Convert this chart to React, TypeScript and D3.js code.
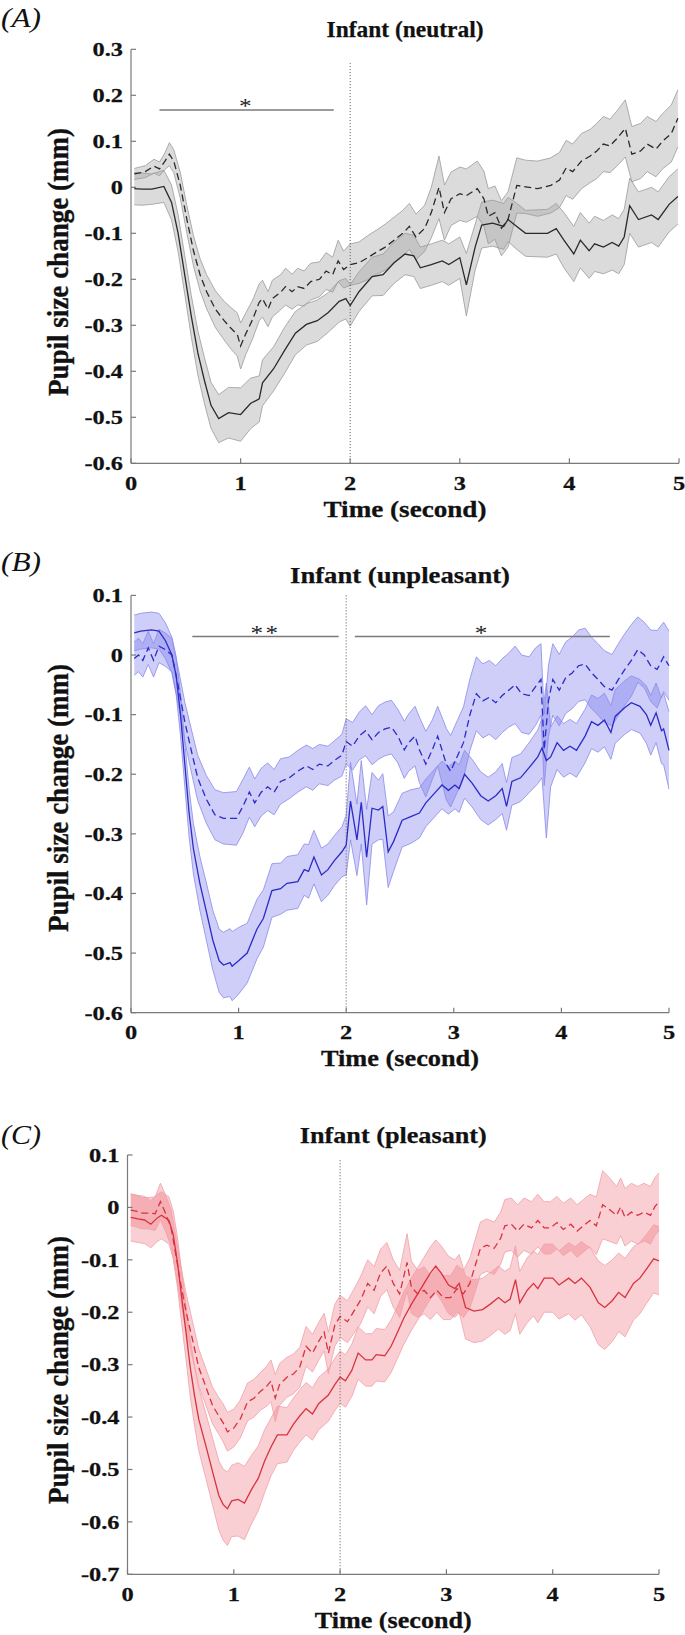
import React from "react";
import * as d3 from "d3";

// ---------- DATA ----------
const timeTicks = [0, 1, 2, 3, 4, 5];
const neutralYTicks = [0.3, 0.2, 0.1, 0, -0.1, -0.2, -0.3, -0.4, -0.5, -0.6];
const unpleasantYTicks = [0.1, 0, -0.1, -0.2, -0.3, -0.4, -0.5, -0.6];
const pleasantYTicks = [0.1, 0, -0.1, -0.2, -0.3, -0.4, -0.5, -0.6, -0.7];

const panelLetters = ["(A)", "(B)", "(C)"];
const panelTitles = ["Infant (neutral)", "Infant (unpleasant)", "Infant (pleasant)"];
const xAxisLabel = "Time (second)";
const yAxisLabel = "Pupil size change (mm)";

// [time (s), mean (mm), band half-width (mm)]
const neutralSolid = [
  [0.03, -0.003, 0.035], [0.1, -0.004, 0.035], [0.19, -0.004, 0.033], [0.3, 0.002, 0.035], [0.37, -0.033, 0.038],
  [0.43, -0.1, 0.04], [0.49, -0.19, 0.042], [0.55, -0.28, 0.045], [0.61, -0.36, 0.048], [0.67, -0.42, 0.05],
  [0.73, -0.474, 0.05], [0.8, -0.503, 0.052], [0.89, -0.49, 0.055], [1.0, -0.494, 0.058], [1.09, -0.47, 0.055],
  [1.17, -0.46, 0.05], [1.2, -0.425, 0.05], [1.3, -0.395, 0.048], [1.4, -0.355, 0.05], [1.5, -0.317, 0.047],
  [1.6, -0.298, 0.045], [1.7, -0.29, 0.045], [1.8, -0.272, 0.043], [1.9, -0.248, 0.045], [1.96, -0.242, 0.044],
  [2.0, -0.257, 0.045], [2.08, -0.227, 0.043], [2.2, -0.194, 0.042], [2.3, -0.19, 0.045], [2.4, -0.164, 0.045],
  [2.5, -0.145, 0.045], [2.58, -0.149, 0.045], [2.64, -0.175, 0.045], [2.74, -0.168, 0.045], [2.84, -0.16, 0.045],
  [2.9, -0.168, 0.045], [3.0, -0.153, 0.045], [3.06, -0.212, 0.068], [3.14, -0.13, 0.05], [3.2, -0.082, 0.05],
  [3.3, -0.078, 0.05], [3.4, -0.085, 0.05], [3.44, -0.07, 0.048], [3.52, -0.085, 0.05], [3.6, -0.1, 0.05],
  [3.8, -0.1, 0.052], [3.88, -0.09, 0.055], [3.95, -0.115, 0.06], [4.04, -0.145, 0.06], [4.1, -0.115, 0.06],
  [4.18, -0.138, 0.06], [4.23, -0.123, 0.06], [4.31, -0.13, 0.058], [4.39, -0.12, 0.06], [4.45, -0.128, 0.06],
  [4.5, -0.108, 0.06], [4.55, -0.04, 0.06], [4.63, -0.07, 0.06], [4.75, -0.06, 0.06], [4.81, -0.07, 0.06],
  [4.91, -0.037, 0.06], [4.99, -0.02, 0.06],
];
const neutralDashed = [
  [0.03, 0.029, 0.012], [0.13, 0.034, 0.013], [0.21, 0.046, 0.015], [0.26, 0.04, 0.015], [0.31, 0.057, 0.018],
  [0.35, 0.072, 0.025], [0.39, 0.057, 0.025], [0.45, 0.004, 0.028], [0.51, -0.07, 0.03], [0.57, -0.138, 0.033],
  [0.63, -0.19, 0.035], [0.69, -0.227, 0.037], [0.77, -0.265, 0.04], [0.85, -0.29, 0.042], [0.91, -0.306, 0.045],
  [0.97, -0.32, 0.047], [1.0, -0.345, 0.05], [1.05, -0.317, 0.045], [1.11, -0.287, 0.042], [1.17, -0.25, 0.04],
  [1.2, -0.242, 0.04], [1.25, -0.265, 0.038], [1.29, -0.242, 0.04], [1.37, -0.227, 0.038], [1.41, -0.216, 0.04],
  [1.47, -0.227, 0.038], [1.52, -0.216, 0.04], [1.58, -0.22, 0.038], [1.64, -0.205, 0.04], [1.72, -0.2, 0.038],
  [1.78, -0.182, 0.04], [1.84, -0.19, 0.038], [1.89, -0.16, 0.045], [1.94, -0.179, 0.04], [2.0, -0.168, 0.045],
  [2.08, -0.164, 0.045], [2.16, -0.153, 0.048], [2.24, -0.141, 0.048], [2.32, -0.13, 0.05], [2.4, -0.115, 0.05],
  [2.48, -0.1, 0.05], [2.54, -0.085, 0.05], [2.6, -0.108, 0.05], [2.68, -0.089, 0.05], [2.74, -0.055, 0.055],
  [2.81, 0.0, 0.068], [2.86, -0.055, 0.06], [2.92, -0.025, 0.058], [3.0, -0.014, 0.058], [3.06, -0.018, 0.058],
  [3.16, -0.003, 0.06], [3.22, -0.025, 0.06], [3.26, -0.063, 0.06], [3.32, -0.055, 0.058], [3.38, -0.089, 0.06],
  [3.44, -0.07, 0.06], [3.52, 0.004, 0.06], [3.6, 0.001, 0.058], [3.71, -0.003, 0.06], [3.83, 0.004, 0.06],
  [3.91, 0.016, 0.06], [3.97, 0.042, 0.06], [4.03, 0.034, 0.06], [4.11, 0.057, 0.06], [4.19, 0.068, 0.058],
  [4.25, 0.079, 0.06], [4.31, 0.094, 0.06], [4.37, 0.09, 0.058], [4.43, 0.105, 0.06], [4.51, 0.128, 0.062],
  [4.57, 0.072, 0.06], [4.65, 0.079, 0.06], [4.71, 0.094, 0.06], [4.79, 0.083, 0.06], [4.85, 0.1, 0.06],
  [4.93, 0.117, 0.062], [4.99, 0.15, 0.062],
];

const unpleasantSolid = [
  [0.03, 0.037, 0.03], [0.09, 0.04, 0.03], [0.19, 0.042, 0.03], [0.26, 0.04, 0.03], [0.32, 0.024, 0.03],
  [0.38, 0.0, 0.03], [0.42, -0.035, 0.032], [0.46, -0.1, 0.035], [0.5, -0.183, 0.038], [0.54, -0.265, 0.04],
  [0.58, -0.325, 0.042], [0.64, -0.383, 0.045], [0.7, -0.43, 0.048], [0.76, -0.478, 0.05], [0.82, -0.513, 0.053],
  [0.86, -0.52, 0.055], [0.92, -0.516, 0.057], [0.94, -0.522, 0.058], [1.0, -0.513, 0.056], [1.08, -0.5, 0.05],
  [1.17, -0.46, 0.05], [1.23, -0.442, 0.048], [1.31, -0.395, 0.045], [1.39, -0.392, 0.043], [1.45, -0.383, 0.045],
  [1.55, -0.38, 0.045], [1.61, -0.36, 0.043], [1.65, -0.363, 0.045], [1.7, -0.339, 0.045], [1.77, -0.369, 0.045],
  [1.83, -0.36, 0.043], [1.89, -0.345, 0.042], [1.96, -0.33, 0.042], [2.0, -0.319, 0.05], [2.04, -0.245, 0.065],
  [2.1, -0.31, 0.06], [2.14, -0.247, 0.07], [2.19, -0.339, 0.08], [2.24, -0.257, 0.06], [2.3, -0.26, 0.05],
  [2.34, -0.254, 0.055], [2.39, -0.33, 0.06], [2.44, -0.313, 0.05], [2.52, -0.277, 0.045], [2.6, -0.271, 0.045],
  [2.68, -0.265, 0.042], [2.74, -0.248, 0.04], [2.83, -0.23, 0.04], [2.89, -0.218, 0.04], [2.95, -0.227, 0.04],
  [3.01, -0.218, 0.04], [3.05, -0.224, 0.04], [3.1, -0.2, 0.04], [3.17, -0.215, 0.04], [3.25, -0.236, 0.04],
  [3.32, -0.245, 0.04], [3.39, -0.236, 0.04], [3.45, -0.224, 0.042], [3.49, -0.254, 0.04], [3.54, -0.212, 0.04],
  [3.62, -0.206, 0.04], [3.7, -0.189, 0.042], [3.78, -0.171, 0.045], [3.82, -0.156, 0.05], [3.86, -0.177, 0.13],
  [3.9, -0.171, 0.05], [3.96, -0.147, 0.045], [4.02, -0.16, 0.045], [4.08, -0.153, 0.045], [4.14, -0.16, 0.045],
  [4.22, -0.136, 0.045], [4.28, -0.112, 0.045], [4.34, -0.118, 0.045], [4.4, -0.109, 0.045], [4.46, -0.13, 0.045],
  [4.5, -0.103, 0.045], [4.59, -0.088, 0.045], [4.65, -0.08, 0.045], [4.73, -0.086, 0.045], [4.79, -0.1, 0.048],
  [4.83, -0.118, 0.05], [4.88, -0.097, 0.05], [4.93, -0.127, 0.055], [4.95, -0.124, 0.06], [5.0, -0.16, 0.065],
];
const unpleasantDashed = [
  [0.03, -0.006, 0.028], [0.07, 0.0, 0.028], [0.11, -0.009, 0.028], [0.16, 0.012, 0.028], [0.21, -0.009, 0.028],
  [0.26, 0.015, 0.028], [0.32, 0.009, 0.028], [0.38, 0.0, 0.028], [0.44, -0.053, 0.03], [0.5, -0.112, 0.033],
  [0.56, -0.16, 0.036], [0.62, -0.206, 0.038], [0.7, -0.242, 0.04], [0.78, -0.268, 0.042], [0.86, -0.274, 0.043],
  [0.98, -0.274, 0.045], [1.04, -0.254, 0.045], [1.1, -0.23, 0.042], [1.15, -0.248, 0.04], [1.21, -0.23, 0.04],
  [1.27, -0.221, 0.04], [1.33, -0.23, 0.038], [1.39, -0.212, 0.038], [1.47, -0.206, 0.035], [1.55, -0.195, 0.035],
  [1.63, -0.186, 0.035], [1.69, -0.192, 0.035], [1.75, -0.183, 0.033], [1.83, -0.186, 0.033], [1.89, -0.177, 0.033],
  [1.96, -0.168, 0.035], [2.0, -0.145, 0.038], [2.06, -0.153, 0.04], [2.12, -0.136, 0.04], [2.18, -0.127, 0.042],
  [2.24, -0.142, 0.042], [2.3, -0.13, 0.045], [2.36, -0.124, 0.045], [2.42, -0.121, 0.045], [2.48, -0.136, 0.045],
  [2.54, -0.159, 0.048], [2.58, -0.147, 0.048], [2.64, -0.136, 0.05], [2.68, -0.159, 0.055], [2.74, -0.183, 0.055],
  [2.8, -0.159, 0.05], [2.85, -0.136, 0.05], [2.89, -0.159, 0.055], [2.93, -0.183, 0.06], [2.97, -0.195, 0.06],
  [3.03, -0.171, 0.06], [3.09, -0.147, 0.06], [3.15, -0.1, 0.06], [3.21, -0.065, 0.062], [3.27, -0.077, 0.062],
  [3.33, -0.071, 0.062], [3.39, -0.08, 0.062], [3.45, -0.068, 0.062], [3.51, -0.059, 0.062], [3.57, -0.05, 0.065],
  [3.63, -0.065, 0.065], [3.7, -0.068, 0.065], [3.76, -0.053, 0.065], [3.81, -0.041, 0.06], [3.84, -0.159, 0.06],
  [3.88, -0.077, 0.06], [3.92, -0.041, 0.06], [3.98, -0.059, 0.06], [4.04, -0.038, 0.06], [4.1, -0.03, 0.06],
  [4.16, -0.018, 0.06], [4.22, -0.015, 0.06], [4.28, -0.03, 0.06], [4.34, -0.041, 0.06], [4.4, -0.053, 0.06],
  [4.47, -0.059, 0.06], [4.53, -0.041, 0.06], [4.59, -0.024, 0.06], [4.65, -0.009, 0.06], [4.71, 0.009, 0.055],
  [4.77, 0.0, 0.055], [4.83, -0.018, 0.06], [4.89, -0.024, 0.065], [4.95, -0.003, 0.058], [5.0, -0.018, 0.058],
];

const pleasantSolid = [
  [0.03, -0.019, 0.045], [0.1, -0.022, 0.045], [0.16, -0.024, 0.045], [0.22, -0.032, 0.045], [0.28, -0.02, 0.045],
  [0.32, -0.015, 0.045], [0.39, -0.025, 0.045], [0.43, -0.052, 0.045], [0.47, -0.105, 0.048], [0.51, -0.172, 0.05],
  [0.55, -0.238, 0.052], [0.59, -0.305, 0.055], [0.63, -0.358, 0.057], [0.67, -0.404, 0.06], [0.74, -0.457, 0.062],
  [0.8, -0.504, 0.064], [0.86, -0.55, 0.066], [0.9, -0.567, 0.068], [0.94, -0.575, 0.07], [0.98, -0.56, 0.068],
  [1.04, -0.557, 0.07], [1.1, -0.564, 0.07], [1.17, -0.537, 0.065], [1.23, -0.517, 0.062], [1.29, -0.484, 0.06],
  [1.35, -0.457, 0.055], [1.41, -0.434, 0.055], [1.5, -0.434, 0.052], [1.56, -0.414, 0.05], [1.62, -0.398, 0.05],
  [1.68, -0.384, 0.05], [1.74, -0.394, 0.05], [1.8, -0.374, 0.05], [1.89, -0.358, 0.05], [1.95, -0.338, 0.05],
  [2.0, -0.324, 0.05], [2.05, -0.331, 0.05], [2.11, -0.311, 0.05], [2.17, -0.278, 0.05], [2.24, -0.291, 0.05],
  [2.3, -0.291, 0.05], [2.34, -0.281, 0.05], [2.42, -0.283, 0.05], [2.48, -0.265, 0.05], [2.54, -0.238, 0.05],
  [2.6, -0.211, 0.05], [2.67, -0.185, 0.05], [2.73, -0.165, 0.05], [2.79, -0.145, 0.05], [2.85, -0.125, 0.05],
  [2.9, -0.112, 0.05], [2.95, -0.125, 0.052], [3.02, -0.148, 0.055], [3.08, -0.155, 0.055], [3.12, -0.145, 0.055],
  [3.18, -0.191, 0.06], [3.26, -0.198, 0.06], [3.34, -0.195, 0.06], [3.41, -0.185, 0.06], [3.49, -0.172, 0.06],
  [3.55, -0.182, 0.06], [3.6, -0.175, 0.06], [3.65, -0.138, 0.065], [3.69, -0.182, 0.06], [3.76, -0.158, 0.062],
  [3.82, -0.145, 0.062], [3.86, -0.155, 0.065], [3.92, -0.135, 0.065], [4.0, -0.135, 0.065], [4.06, -0.148, 0.065],
  [4.15, -0.135, 0.068], [4.21, -0.145, 0.07], [4.27, -0.135, 0.07], [4.35, -0.152, 0.075], [4.43, -0.182, 0.08],
  [4.49, -0.191, 0.08], [4.56, -0.178, 0.078], [4.62, -0.162, 0.075], [4.68, -0.172, 0.075], [4.76, -0.145, 0.07],
  [4.82, -0.135, 0.068], [4.88, -0.118, 0.066], [4.95, -0.098, 0.065], [5.0, -0.102, 0.065],
];
const pleasantDashed = [
  [0.03, -0.005, 0.03], [0.08, -0.007, 0.03], [0.14, -0.011, 0.03], [0.2, -0.011, 0.03], [0.26, -0.012, 0.032],
  [0.31, 0.011, 0.035], [0.36, -0.012, 0.035], [0.41, -0.039, 0.035], [0.45, -0.085, 0.035], [0.5, -0.145, 0.035],
  [0.55, -0.198, 0.035], [0.61, -0.251, 0.035], [0.67, -0.305, 0.035], [0.74, -0.344, 0.035], [0.8, -0.378, 0.035],
  [0.86, -0.398, 0.035], [0.9, -0.411, 0.036], [0.94, -0.428, 0.037], [1.0, -0.421, 0.036], [1.06, -0.404, 0.036],
  [1.13, -0.371, 0.036], [1.19, -0.364, 0.036], [1.25, -0.351, 0.036], [1.31, -0.341, 0.038], [1.35, -0.331, 0.04],
  [1.39, -0.364, 0.045], [1.43, -0.338, 0.04], [1.5, -0.324, 0.038], [1.56, -0.318, 0.038], [1.62, -0.305, 0.038],
  [1.68, -0.265, 0.038], [1.74, -0.278, 0.036], [1.8, -0.255, 0.036], [1.85, -0.238, 0.036], [1.89, -0.278, 0.04],
  [1.95, -0.225, 0.04], [2.0, -0.208, 0.04], [2.07, -0.218, 0.04], [2.13, -0.198, 0.042], [2.19, -0.178, 0.045],
  [2.26, -0.145, 0.045], [2.32, -0.158, 0.045], [2.38, -0.125, 0.045], [2.44, -0.112, 0.045], [2.5, -0.145, 0.045],
  [2.56, -0.165, 0.045], [2.63, -0.105, 0.055], [2.67, -0.152, 0.05], [2.73, -0.165, 0.045], [2.79, -0.158, 0.045],
  [2.85, -0.172, 0.042], [2.91, -0.158, 0.042], [2.97, -0.172, 0.042], [3.04, -0.172, 0.042], [3.1, -0.155, 0.045],
  [3.16, -0.165, 0.045], [3.22, -0.145, 0.048], [3.28, -0.105, 0.05], [3.32, -0.078, 0.05], [3.38, -0.072, 0.05],
  [3.45, -0.078, 0.05], [3.51, -0.059, 0.05], [3.55, -0.035, 0.05], [3.61, -0.032, 0.05], [3.67, -0.045, 0.05],
  [3.73, -0.032, 0.05], [3.8, -0.039, 0.05], [3.86, -0.025, 0.05], [3.92, -0.039, 0.05], [3.98, -0.039, 0.05],
  [4.04, -0.029, 0.05], [4.1, -0.042, 0.05], [4.17, -0.032, 0.05], [4.23, -0.045, 0.05], [4.29, -0.035, 0.05],
  [4.35, -0.025, 0.05], [4.41, -0.035, 0.055], [4.47, 0.005, 0.065], [4.54, -0.005, 0.06], [4.6, -0.015, 0.055],
  [4.64, 0.001, 0.055], [4.68, -0.019, 0.055], [4.74, -0.009, 0.055], [4.8, -0.015, 0.055], [4.86, -0.009, 0.055],
  [4.92, -0.015, 0.055], [4.96, 0.001, 0.055], [5.0, 0.011, 0.055],
];

// significance bars: [start s, end s, y value, label]
const neutralSig = [[0.26, 1.85, 0.168, "*"]];
const unpleasantSig = [[0.57, 1.93, 0.031, "**"], [2.08, 4.45, 0.031, "*"]];
const pleasantSig: any[] = [];

// stimulus-offset marker (time, top value)
const neutralMarker = [2, 0.27];
const unpleasantMarker = [2, 0.1];
const pleasantMarker = [2, 0.09];

// ---------- LAYOUT ----------
const FONT = "'Liberation Serif', 'Times New Roman', serif";
const SX = 1.25; // horizontal glyph stretch seen in the figure

const panels = [
  {
    letter: panelLetters[0], title: panelTitles[0], solid: neutralSolid, dashed: neutralDashed,
    yTicks: neutralYTicks, sig: neutralSig, marker: neutralMarker,
    x0: 131, x1: 679, yTop: 49.3, yBot: 463.3,
    letterY: 27, titleY: 37, titleW: 157, yLabelC: 262, xLabelW: 163,
    band: "#a4a4a4", bandOp: 0.4, edge: "#9a9a9a", lineCol: "#2a2a2a",
  },
  {
    letter: panelLetters[1], title: panelTitles[1], solid: unpleasantSolid, dashed: unpleasantDashed,
    yTicks: unpleasantYTicks, sig: unpleasantSig, marker: unpleasantMarker,
    x0: 131, x1: 669, yTop: 595.4, yBot: 1012.7,
    letterY: 571, titleY: 583, titleW: 220, yLabelC: 798, xLabelW: 158,
    band: "#7676ee", bandOp: 0.36, edge: "#8a8ae8", lineCol: "#2b2bc8",
  },
  {
    letter: panelLetters[2], title: panelTitles[2], solid: pleasantSolid, dashed: pleasantDashed,
    yTicks: pleasantYTicks, sig: pleasantSig, marker: pleasantMarker,
    x0: 127.5, x1: 659, yTop: 1155, yBot: 1574.3,
    letterY: 1144, titleY: 1143, titleW: 187, yLabelC: 1370, xLabelW: 157,
    band: "#f06a76", bandOp: 0.32, edge: "#f0a0a8", lineCol: "#d8323e",
  },
];

const fmt = (d: number) => {
  const r = Math.round(d * 10) / 10;
  return r === 0 ? "0" : String(r);
};

function Panel({ p }: { p: any }) {
  const yMax = d3.max(p.yTicks as number[])!;
  const yMin = d3.min(p.yTicks as number[])!;
  const x = d3.scaleLinear().domain([0, 5]).range([p.x0, p.x1]);
  const y = d3.scaleLinear().domain([yMin, yMax]).range([p.yBot, p.yTop]);
  const area = d3.area<number[]>().x((d) => x(d[0])).y0((d) => y(d[1] - d[2])).y1((d) => y(d[1] + d[2]));
  const line = d3.line<number[]>().x((d) => x(d[0])).y((d) => y(d[1]));
  const lo = d3.line<number[]>().x((d) => x(d[0])).y((d) => y(d[1] - d[2]));
  const hi = d3.line<number[]>().x((d) => x(d[0])).y((d) => y(d[1] + d[2]));
  const axisCol = "#7a7a7a";
  const txt = "#111";
  const cx = (p.x0 + p.x1) / 2;
  return (
    <g>
      <text x={1} y={p.letterY} fontFamily={FONT} fontStyle="italic" fontSize={28} fill={txt}
        textLength={40} lengthAdjust="spacingAndGlyphs">{p.letter}</text>
      <text x={cx} y={p.titleY} fontFamily={FONT} fontWeight="bold" fontSize={23} textAnchor="middle"
        textLength={p.titleW} lengthAdjust="spacingAndGlyphs" fill={txt} stroke={txt} strokeWidth={0.25}>{p.title}</text>
      {[p.solid, p.dashed].map((s: number[][], i: number) => (
        <path key={"a" + i} d={area(s)!} fill={p.band} fillOpacity={p.bandOp} stroke="none" />
      ))}
      {[p.solid, p.dashed].map((s: number[][], i: number) => (
        <g key={"e" + i}>
          <path d={lo(s)!} fill="none" stroke={p.edge} strokeWidth={0.8} />
          <path d={hi(s)!} fill="none" stroke={p.edge} strokeWidth={0.8} />
        </g>
      ))}
      <path d={line(p.solid)!} fill="none" stroke={p.lineCol} strokeWidth={1.3} />
      <path d={line(p.dashed)!} fill="none" stroke={p.lineCol} strokeWidth={1.3} strokeDasharray="7,4" />
      <line x1={x(p.marker[0])} x2={x(p.marker[0])} y1={y(p.marker[1])} y2={p.yBot}
        stroke="#555" strokeWidth={1} strokeDasharray="1,2" />
      {p.sig.map((s: any, i: number) => (
        <g key={"s" + i}>
          <line x1={x(s[0])} x2={x(s[1])} y1={y(s[2])} y2={y(s[2])} stroke="#7a7a7a" strokeWidth={1.6} />
          <text transform={`translate(${x((s[0] + s[1]) / 2)},${y(s[2]) + 3}) scale(1.2,1)`} fontFamily={FONT}
            fontSize={21} textAnchor="middle" fill="#222" letterSpacing={2}>{s[3]}</text>
        </g>
      ))}
      {/* axes */}
      <line x1={p.x0} x2={p.x0} y1={p.yTop} y2={p.yBot} stroke={axisCol} strokeWidth={1.2} />
      <line x1={p.x0} x2={p.x1} y1={p.yBot} y2={p.yBot} stroke={axisCol} strokeWidth={1.2} />
      {(p.yTicks as number[]).map((t) => (
        <g key={"y" + t}>
          <line x1={p.x0} x2={p.x0 + 5} y1={y(t)} y2={y(t)} stroke={axisCol} strokeWidth={1.2} />
          <text transform={`translate(${p.x0 - 8},${y(t)}) scale(${SX},1)`} dy="0.35em" textAnchor="end"
            fontFamily={FONT} fontWeight="bold" fontSize={19.5} fill={txt} stroke={txt} strokeWidth={0.25}>{fmt(t)}</text>
        </g>
      ))}
      {timeTicks.map((t) => (
        <g key={"x" + t}>
          <line x1={x(t)} x2={x(t)} y1={p.yBot} y2={p.yBot - 5} stroke={axisCol} strokeWidth={1.2} />
          <text transform={`translate(${x(t)},${p.yBot + 26.5}) scale(${SX},1)`} textAnchor="middle"
            fontFamily={FONT} fontWeight="bold" fontSize={19.5} fill={txt} stroke={txt} strokeWidth={0.25}>{t}</text>
        </g>
      ))}
      <text x={cx} y={p.yBot + 53.5} textAnchor="middle" fontFamily={FONT} fontWeight="bold" fontSize={24}
        textLength={p.xLabelW} lengthAdjust="spacingAndGlyphs" fill={txt} stroke={txt} strokeWidth={0.3}>{xAxisLabel}</text>
      <text transform={`translate(68,${p.yLabelC}) rotate(-90)`} textAnchor="middle" fontFamily={FONT} fontWeight="bold"
        fontSize={30} textLength={268} lengthAdjust="spacingAndGlyphs" fill={txt} stroke={txt} strokeWidth={0.35}>{yAxisLabel}</text>
    </g>
  );
}

export default function App() {
  return (
    <svg width={685} height={1635} style={{ position: "absolute", left: 0, top: 0, background: "#fff" }}>
      <rect width={685} height={1635} fill="#fff" />
      {panels.map((p, i) => <Panel key={i} p={p} />)}
    </svg>
  );
}
